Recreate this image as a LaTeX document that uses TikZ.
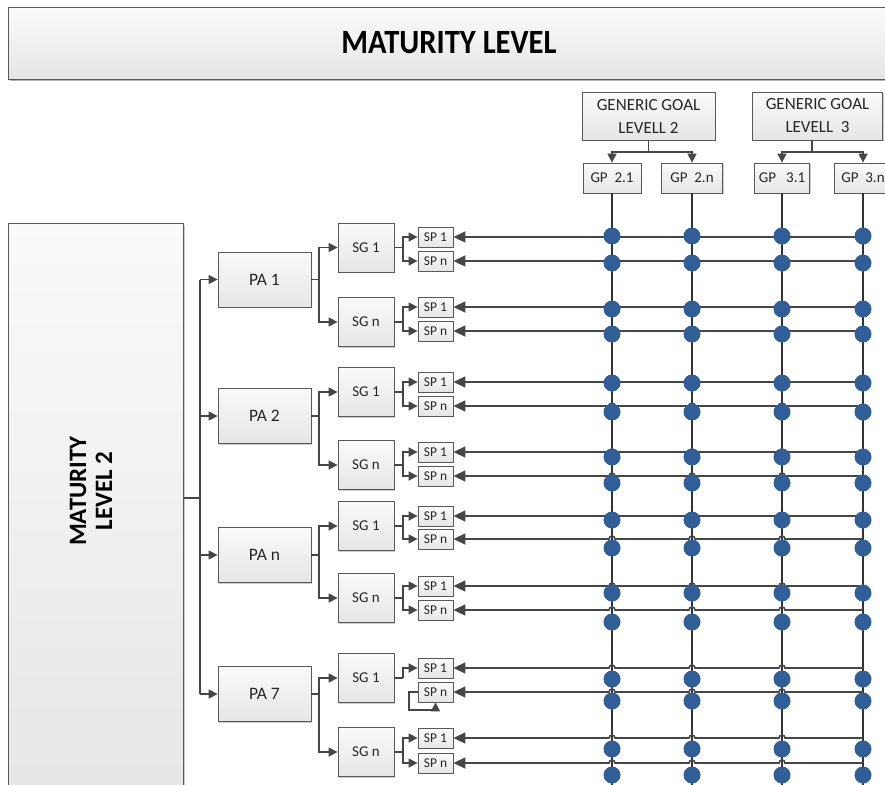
\documentclass[tikz,border=0pt]{standalone}
\usepackage{fontspec}
\setmainfont{Carlito}
\usetikzlibrary{arrows.meta,shadows}
\definecolor{dotblue}{RGB}{47,94,152}
\definecolor{ln}{RGB}{70,70,70}
\definecolor{vl}{RGB}{50,50,50}
\definecolor{txt}{RGB}{38,38,38}
\tikzset{
  box/.style={rectangle, draw=gray!70!black, line width=0.8pt, top color=gray!4, bottom color=gray!20,
    inner sep=0pt, align=center, text=txt,
    drop shadow={shadow xshift=1.2pt, shadow yshift=-1.2pt, fill=black, opacity=0.2}},
  ggbox/.style={box, minimum width=133, minimum height=48, font=\fontsize{17}{23}\selectfont},
  gpbox/.style={box, minimum height=30, font=\fontsize{15}{18}\selectfont},
  pabox/.style={box, minimum width=93, minimum height=55, font=\fontsize{17.5}{20}\selectfont},
  sgbox/.style={box, minimum width=56, minimum height=49, font=\fontsize{15}{17}\selectfont},
  spbox/.style={box, minimum width=35, minimum height=20, font=\fontsize{13.5}{15}\selectfont},
  conn/.style={draw=ln, line width=1.5pt},
  arr/.style={conn, -{Triangle[length=9pt,width=9pt]}},
  hline/.style={draw=ln, line width=1.6pt, -{Triangle[length=12pt,width=11pt]}},
  vline/.style={draw=vl, line width=2pt},
  dot/.style={fill=dotblue}
}
\begin{document}
\begin{tikzpicture}[x=1pt,y=-1pt]
\useasboundingbox (0,0) rectangle (885,784);
\clip (0,0) rectangle (885,784);

% title
\node[box, minimum width=882, minimum height=72, text=black,
      drop shadow={shadow xshift=2pt, shadow yshift=-2pt, fill=black, opacity=0.3},
      font=\fontsize{34}{38}\selectfont\bfseries] (title) at (449,43) {\scalebox{0.9}[1]{MATURITY LEVEL}};

% generic goals
\node[ggbox] (gg2) at (648.5,116) {GENERIC GOAL\\LEVELL 2};
\node[ggbox, minimum width=130] (gg3) at (817.5,116) {GENERIC GOAL\\LEVELL\ \ 3};
\node[gpbox, minimum width=58] (gp21) at (612,178) {GP\ \ 2.1};
\node[gpbox, minimum width=61] (gp2n) at (692,178) {GP\ \ 2.n};
\node[gpbox, minimum width=55] (gp31) at (782,178) {GP\ \ \ 3.1};
\node[gpbox, minimum width=58] (gp3n) at (863,178) {GP\ \ 3.n};

\coordinate (g2j) at (648.5,152);
\coordinate (g3j) at (812,152);
\draw[conn] (gg2.south) -- (g2j);
\draw[arr] (g2j) -| (gp21.north);
\draw[arr] (g2j) -| (gp2n.north);
\draw[conn] (gg3.south -| g3j) -- (g3j);
\draw[arr] (g3j) -| (gp31.north);
\draw[arr] (g3j) -| (gp3n.north);

% vertical lines
\coordinate (bot) at (0,790);
\foreach \g in {gp21,gp2n,gp31,gp3n}
  \draw[vline] (\g.south) -- (\g.south |- bot);

% maturity level 2
\node[box, anchor=north west, minimum width=175, minimum height=600] (ml2) at (8,223) {};
\node[rotate=90, align=center, text=black, font=\fontsize{25}{26}\selectfont\bfseries] (ml2t) at (91,491) {MATURITY\\LEVEL 2};

\coordinate (mj) at (200,498);
\draw[conn] (ml2.north east |- mj) -- (mj);

\foreach \i/\lab/\py/\sa/\sb/\la/\lb/\lc/\ld/\da/\db/\dc/\dd in {
 1/PA 1/279.5/247.5/322/237/261/307/331/236/263/309/334,
 2/PA 2/416/392/465/382/406/452/476/383/412/457/483,
 3/PA n/555/526/598/516/539/586/610/520/548/593/622,
 4/PA 7/694/678/752/668/692/738/763/679/701/749/775}
{
  \node[pabox] (pa\i) at (264.5,\py) {\lab};
  \node[sgbox] (sga\i) at (366,\sa) {SG 1};
  \node[sgbox] (sgb\i) at (366,\sb) {SG n};
  \node[spbox] (spa\i) at (435.5,\la) {SP 1};
  \node[spbox] (spb\i) at (435.5,\lb) {SP n};
  \node[spbox] (spc\i) at (435.5,\lc) {SP 1};
  \node[spbox] (spd\i) at (435.5,\ld) {SP n};
  % trunk arrow
  \draw[arr] (pa\i.west -| mj) -- (pa\i.west);
  % PA -> SG
  \coordinate (pj\i) at (319,\py);
  \draw[conn] (pa\i.east) -- (pj\i);
  \draw[arr] (pj\i) |- (sga\i.west);
  \draw[arr] (pj\i) |- (sgb\i.west);
  % SG -> SP
  \coordinate (sja\i) at (403,\sa);
  \coordinate (sjb\i) at (403,\sb);
  \draw[conn] (sga\i.east) -- (sja\i);
  \draw[arr] (sja\i) |- (spa\i.west);
  \ifnum\i=4
    \coordinate (lpa) at (409,\lb);
    \coordinate (lpb) at (409,710);
    \draw[arr] (spb\i.west) -- (lpa) -- (lpb) -- (lpb -| spb\i.south) -- (spb\i.south);
  \else
    \draw[arr] (sja\i) |- (spb\i.west);
  \fi
  \draw[conn] (sgb\i.east) -- (sjb\i);
  \draw[arr] (sjb\i) |- (spc\i.west);
  \draw[arr] (sjb\i) |- (spd\i.west);
  % horizontal lines with jumps
  \foreach \s/\y/\d in {spa/\la/\da, spb/\lb/\db, spc/\lc/\dc, spd/\ld/\dd} {
    \draw[hline] (863,\y) -- (785,\y) arc[start angle=0, end angle=-180, radius=3]
        -- (695,\y) arc[start angle=0, end angle=-180, radius=3]
        -- (615,\y) arc[start angle=0, end angle=-180, radius=3]
        -- (\s\i.east);
    \foreach \x in {612,692,782,863}
      \fill[dot] (\x,\d) circle[radius=8.5];
  }
}
\draw[conn] (pa1.west -| mj) -- (pa4.west -| mj);
\end{tikzpicture}
\end{document}
